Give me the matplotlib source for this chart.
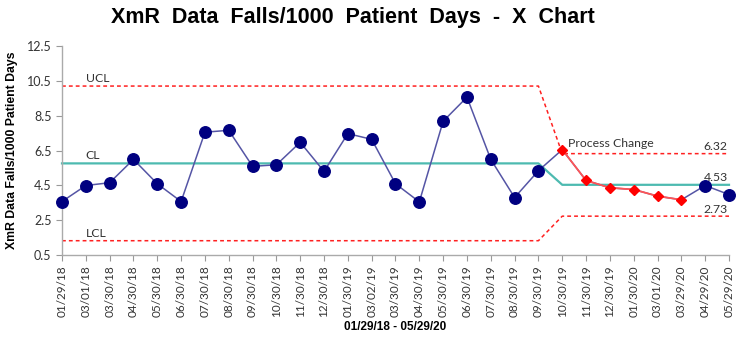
import numpy as np
import matplotlib.pyplot as plt

dates = ['01/29/18', '03/01/18', '03/30/18', '04/30/18', '05/30/18', '06/30/18',
         '07/30/18', '08/30/18', '09/30/18', '10/30/18', '11/30/18', '12/30/18',
         '01/30/19', '03/02/19', '03/30/19', '04/30/19', '05/30/19', '06/30/19',
         '07/30/19', '08/30/19', '09/30/19', '10/30/19', '11/30/19', '12/30/19',
         '01/30/20', '03/01/20', '03/29/20', '04/29/20', '05/29/20']
falls = [3.57, 4.49, 4.65, 5.99, 4.59, 3.57, 7.55, 7.66, 5.59, 5.68, 6.97, 5.30,
         7.47, 7.14, 4.59, 3.55, 8.18, 9.56, 5.99, 3.80, 5.34, 6.55, 4.78, 4.36,
         4.26, 3.88, 3.67, 4.49, 3.97]

# control limits, phase 1 (first 21 points) and phase 2
ucl_1, cl_1, lcl_1 = 10.2, 5.76, 1.32
ucl_2, cl_2, lcl_2 = 6.32, 4.53, 2.73
n_phase1 = 21
flagged = list(range(21, 27))  # points highlighted after the process change

x = np.arange(len(dates))
ucl = np.where(x < n_phase1, ucl_1, ucl_2)
cl = np.where(x < n_phase1, cl_1, cl_2)
lcl = np.where(x < n_phase1, lcl_1, lcl_2)

fig = plt.figure(figsize=(7.43, 3.47), dpi=100)
ax = fig.add_axes([62/743, 92/347, 667/743, 209/347])

red = '#ff2020'
ax.plot(x, ucl, color=red, ls=(0, (2.5, 2)), lw=1.1, clip_on=False)
ax.plot(x, lcl, color=red, ls=(0, (2.5, 2)), lw=1.1, clip_on=False)
ax.plot(x, cl, color='#4dbab0', lw=1.6, clip_on=False)

normal = [i for i in range(len(dates)) if i not in flagged]
ax.plot(x, falls, color='#5555a5', lw=1.1, marker='o', ms=8.3,
        mfc='#000080', mec='#000080', markevery=normal, zorder=3, clip_on=False)
fx = [x[i] for i in flagged]
fy = [falls[i] for i in flagged]
ax.plot(fx, fy, color='#ff5555', lw=1.3, marker='D', ms=5.5,
        mfc='#ff0000', mec='#ff0000', zorder=4)

lab = dict(fontsize=8.8, family='Lato', color='#333333')
ax.text(1.0, ucl_1 + 0.12, 'UCL', ha='left', va='bottom', **lab)
ax.text(1.0, cl_1 + 0.12, 'CL', ha='left', va='bottom', **lab)
ax.text(1.0, lcl_1 + 0.12, 'LCL', ha='left', va='bottom', **lab)
ax.text(21.25, 6.6, 'Process Change', ha='left', va='bottom', **lab)
ax.text(27.95, ucl_2 + 0.08, '%.2f' % ucl_2, ha='right', va='bottom', **lab)
ax.text(27.95, cl_2 + 0.08, '%.2f' % cl_2, ha='right', va='bottom', **lab)
ax.text(27.95, lcl_2 + 0.08, '%.2f' % lcl_2, ha='right', va='bottom', **lab)

ax.set_xlim(0, len(dates) - 1)
ax.set_ylim(0.5, 12.5)
ax.set_yticks(np.arange(0.5, 12.6, 2))
ax.set_yticklabels(['%.1f' % v for v in np.arange(0.5, 12.6, 2)],
                   fontsize=9, family='Lato', color='#333333')
ax.set_xticks(x)
ax.set_xticklabels(dates, rotation=90, fontsize=8.5, family='Lato', color='#333333')
ax.tick_params(axis='both', color='#999999', length=4, width=0.8)

for side in ['top', 'right']:
    ax.spines[side].set_visible(False)
for side in ['left', 'bottom']:
    ax.spines[side].set_color('#aaaaaa')
    ax.spines[side].set_linewidth(1.0)

ax.set_ylabel('XmR Data Falls/1000 Patient Days', fontsize=8.8,
              family='Liberation Sans', weight='bold', labelpad=6)
ax.set_xlabel('01/29/18 - 05/29/20', fontsize=8.5,
              family='Liberation Sans', weight='bold', labelpad=3)
fig.text(353/743, 1 - 18/347, 'XmR  Data  Falls/1000  Patient  Days  -  X  Chart',
         ha='center', va='center', fontsize=15.5,
         family='Liberation Sans', weight='bold')

fig.savefig('out.png', dpi=100)
